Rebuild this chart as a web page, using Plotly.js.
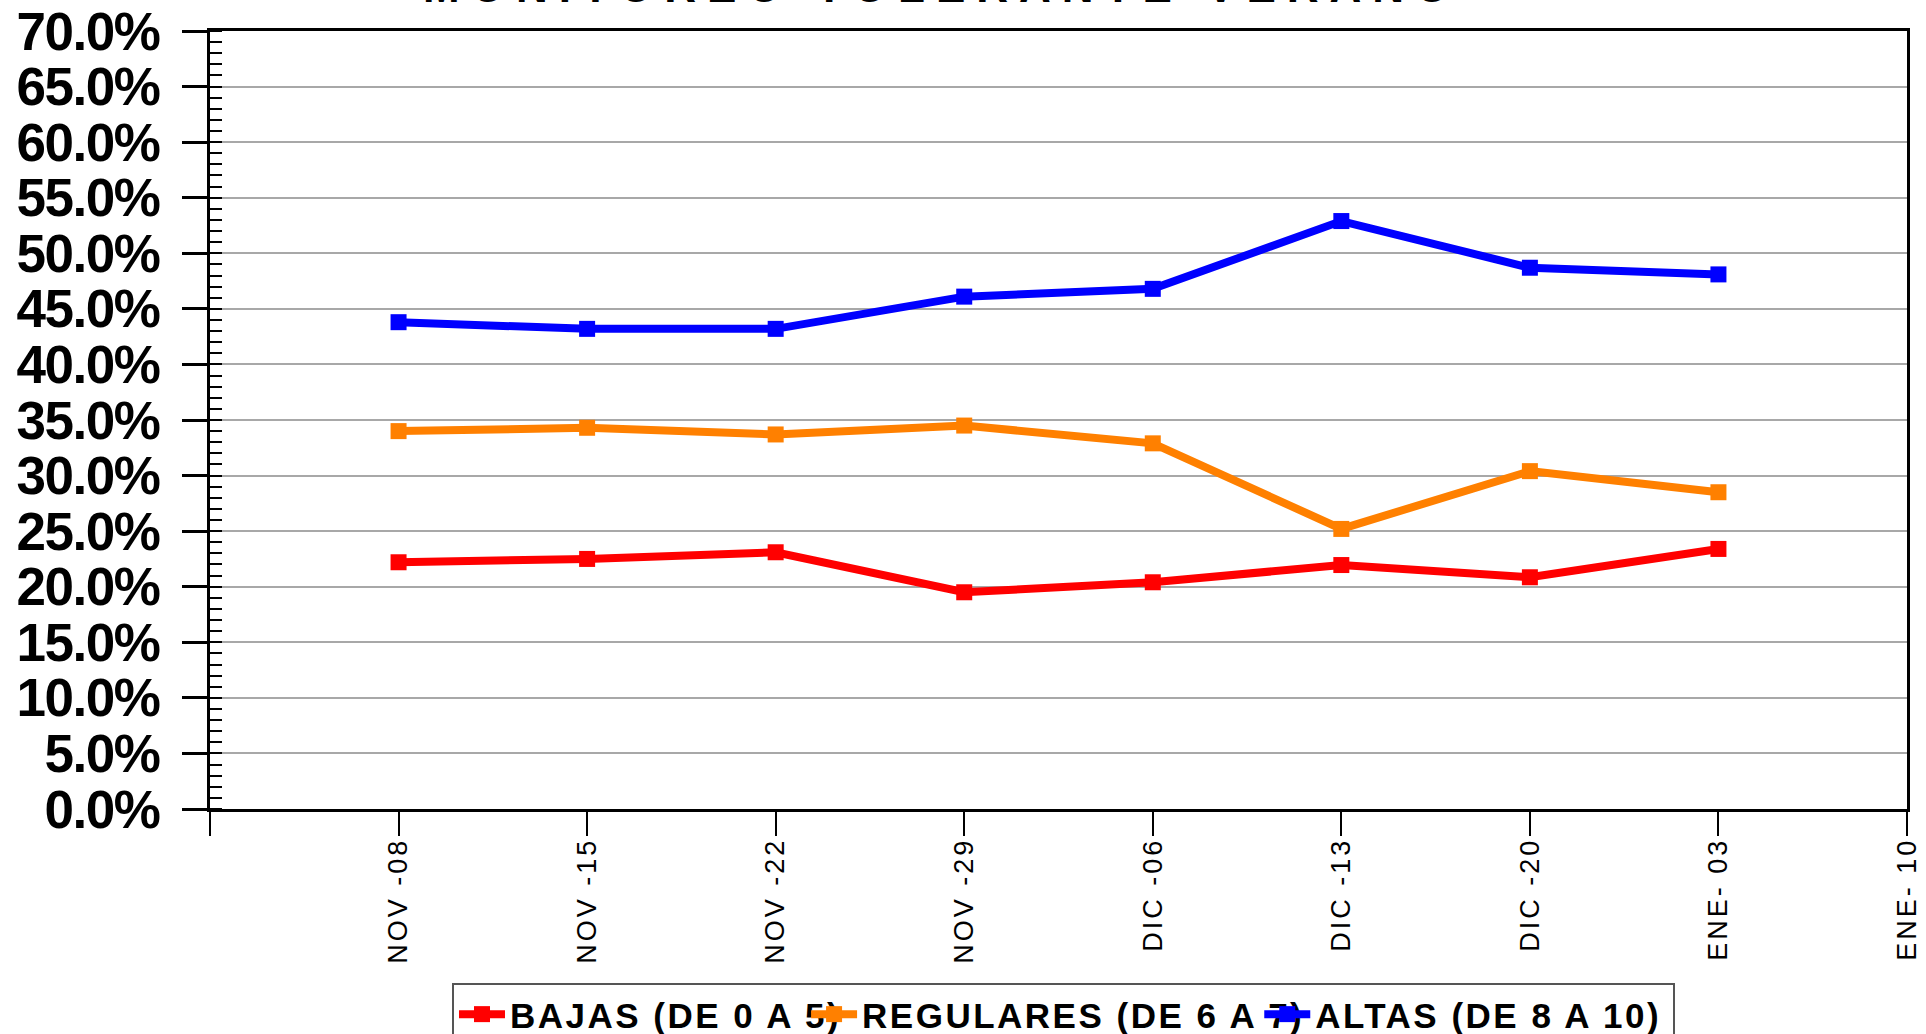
<!DOCTYPE html>
<html>
<head>
<meta charset="utf-8">
<script src="https://cdn.plot.ly/plotly-3.0.1.min.js"></script>
<style>
  body { margin: 0; background: #fff; }
  #plot1 { width: 1926px; height: 1034px; }
  .xtick text { letter-spacing: 3px; }
  .ytick text { letter-spacing: -1.5px; }
  .legend .legendtext { letter-spacing: 2.5px; }
  .annotation-text { letter-spacing: 11px; }
</style>
</head>
<body>
<div id="plot1"></div>
<script>
// weeks on the x axis (last one has no data yet)
let semanas = ['NOV -08', 'NOV -15', 'NOV -22', 'NOV -29', 'DIC -06', 'DIC -13', 'DIC -20', 'ENE- 03', 'ENE- 10'];

// percentages per week
let bajas = [22.2, 22.5, 23.1, 19.5, 20.4, 21.95, 20.85, 23.4];
let regulares = [34.0, 34.3, 33.7, 34.5, 32.9, 25.2, 30.4, 28.5];
let altas = [43.8, 43.2, 43.2, 46.1, 46.8, 52.9, 48.7, 48.1];

let titulo = 'MONITOREO TOLERANTE VERANO';

let posiciones = bajas.map((v, i) => i);

let font = "'Liberation Sans', Arial, sans-serif";

function serie(y, name, color) {
    return {
        x: posiciones,
        y: y,
        type: 'scatter',
        mode: 'lines+markers',
        name: name,
        line: { color: color, width: 8 },
        marker: { color: color, symbol: 'square', size: 16 }
    };
}

let trace1 = serie(bajas, 'BAJAS (DE 0 A 5)', '#ff0000');
let trace2 = serie(regulares, 'REGULARES (DE 6 A 7)', '#ff8000');
// trailing no-break spaces keep the spaced-out text inside the legend box
let trace3 = serie(altas, 'ALTAS (DE 8 A 10)\u00a0\u00a0\u00a0\u00a0\u00a0', '#0000ff');

var data = [trace1, trace2, trace3];

// tick slot at -1 is the left edge of the plot
let tickPos = [-1].concat(semanas.map((s, i) => i));
let tickText = [''].concat(semanas);

var layout = {
    width: 1926,
    height: 1034,
    paper_bgcolor: '#fff',
    plot_bgcolor: '#fff',
    margin: { l: 210, r: 19, t: 31, b: 225, autoexpand: false },
    showlegend: true,
    // the title sits mostly above the page edge, only its lower part shows
    annotations: [{
        text: '<b>' + titulo + '</b>',
        xref: 'paper',
        yref: 'paper',
        x: 0.431,
        y: 1,
        xanchor: 'center',
        yanchor: 'middle',
        yshift: 45,
        showarrow: false,
        font: { family: font, size: 44, color: '#000' }
    }],
    xaxis: {
        type: 'linear',
        range: [-1, 8],
        tickmode: 'array',
        tickvals: tickPos,
        ticktext: tickText,
        tickangle: -90,
        tickfont: { family: font, size: 27, color: '#000' },
        ticks: 'outside',
        ticklen: 24,
        tickwidth: 2,
        tickcolor: '#000',
        ticklabelstandoff: -9,
        showgrid: false,
        zeroline: false,
        showline: true,
        linecolor: '#000',
        linewidth: 3,
        mirror: true,
        automargin: false
    },
    yaxis: {
        range: [0, 70],
        dtick: 5,
        tickformat: '.1f',
        ticksuffix: '%',
        tickfont: { family: font, size: 53, weight: 'bold', color: '#000' },
        ticks: 'outside',
        ticklen: 25,
        tickwidth: 3,
        tickcolor: '#000',
        ticklabelstandoff: 12,
        showgrid: true,
        gridcolor: '#a8a8a8',
        gridwidth: 2,
        zeroline: false,
        showline: true,
        linecolor: '#000',
        linewidth: 3,
        mirror: true,
        automargin: false,
        minor: {
            dtick: 1,
            ticks: 'inside',
            ticklen: 12,
            tickwidth: 2,
            tickcolor: '#000',
            showgrid: false
        }
    },
    legend: {
        orientation: 'h',
        x: 0.1426,
        xanchor: 'left',
        y: -0.2235,
        yanchor: 'top',
        bgcolor: '#fff',
        bordercolor: '#555',
        borderwidth: 2,
        itemwidth: 46,
        font: { family: font, size: 35, weight: 'bold', color: '#000' }
    }
};

Plotly.newPlot('plot1', data, layout, { displayModeBar: false });
</script>
</body>
</html>
